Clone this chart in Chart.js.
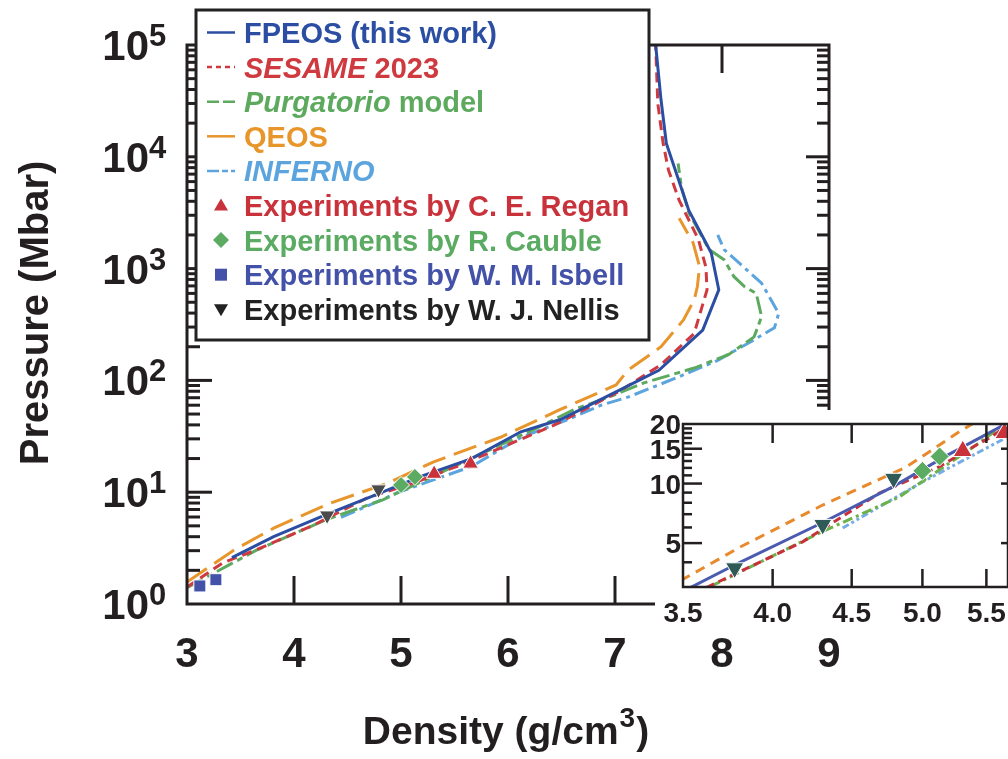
<!DOCTYPE html>
<html><head><meta charset="utf-8">
<script src="https://cdn.jsdelivr.net/npm/chart.js@4/dist/chart.umd.min.js"></script>
<style>
html,body{margin:0;padding:0;background:#fff;overflow:hidden;width:1008px;height:759px;}
#wrap{position:relative;width:1008px;height:759px;overflow:hidden;}
#main{position:absolute;left:0;top:0;}
#inset{position:absolute;left:600px;top:380px;}
</style></head><body>
<div id="wrap"><canvas id="main" width="1008" height="759"></canvas><canvas id="inset" width="420" height="270"></canvas></div>
<script>
// ---------------- data (density g/cm3, pressure Mbar) ----------------
const fpeosRho = [3.42, 3.81, 4.30, 4.78, 5.18, 5.66, 6.12, 6.49, 7.00, 7.41, 7.82, 7.97, 7.90, 7.69, 7.48, 7.43, 7.38];
const fpeosP   = [2.6, 4.0, 6.3, 9.6, 13.8, 20, 34.7, 44.7, 78, 123, 282, 646, 1380, 3311, 13183, 32359, 100000];

const sesameRho = [3.0, 3.34, 3.63, 4.18, 4.69, 5.12, 5.43, 5.54, 6.43, 6.65, 7.05, 7.43, 7.74, 7.86, 7.85, 7.78, 7.60, 7.50, 7.45, 7.40, 7.38];
const sesameP   = [1.42, 2.35, 3.0, 5.06, 8.95, 12.1, 15.8, 17.2, 39.8, 51, 81, 138, 263, 646, 1023, 1820, 4074, 7586, 13183, 30000, 100000];

const purgRho = [3.0, 3.64, 4.29, 4.83, 5.38, 5.62, 6.28, 6.62, 6.96, 7.27, 7.74, 8.06, 8.30, 8.37, 8.32, 8.21, 8.11, 8.02, 7.88, 7.69, 7.62, 7.59];
const purgP   = [1.40, 3.0, 5.63, 8.55, 15.1, 19.3, 38, 55, 72, 95, 129, 170, 245, 372, 600, 692, 851, 1200, 1480, 3162, 5370, 8700];

const qeosRho = [3.0, 3.43, 3.81, 4.31, 4.88, 5.30, 5.93, 6.49, 7.01, 7.12, 7.43, 7.64, 7.74, 7.77, 7.79, 7.73, 7.60];
const qeosP   = [1.57, 3.0, 4.77, 7.79, 12.1, 18.6, 31, 55, 91, 123, 200, 347, 525, 692, 1047, 1700, 2818];

const infernoRho = [4.44, 4.99, 5.66, 6.12, 6.56, 6.87, 7.12, 7.59, 7.96, 8.24, 8.49, 8.53, 8.37, 8.02, 7.96];
const infernoP   = [5.96, 10.1, 17, 30.9, 44.7, 60, 70.8, 107, 151, 214, 295, 398, 741, 1479, 2000];

const reganRho = [5.31, 5.65];        const reganP = [14.6, 18.0];
const caubleRho = [5.00, 5.13];       const caubleP = [11.6, 13.7];
const isbellRho = [3.12, 3.27];       const isbellP = [1.45, 1.65];
const nellisMainRho = [4.31, 4.79];   const nellisMainP = [6.2, 10.6];
const nellisInsetRho = [3.78, 4.31, 4.79]; const nellisInsetP = [3.74, 6.2, 10.6];

// tick labels
const xTicks = [3, 4, 5, 6, 7, 8, 9];
const yTickExps = [0, 1, 2, 3, 4, 5];
const insetXTicks = [3.5, 4.0, 4.5, 5.0, 5.5];
const insetXLabels = ['3.5', '4.0', '4.5', '5.0', '5.5'];
const insetYTicks = [5, 10, 15, 20];
const insetYLabels = ['5', '10', '15', '20'];

// ---------------- styling ----------------
const FONT = '"Liberation Sans", Arial, Helvetica, sans-serif';
const INK = '#231f20';
const C = {fpeos:'#2b4ea3', sesame:'#cf3a40', purg:'#5daa5f', qeos:'#e8962c', inferno:'#5ca4dd',
           regan:'#c9323b', cauble:'#5bab63', isbell:'#4352a8', nellis:'#4b4b4b'};
const CI = {fpeos:'#4a5bb0', sesame:'#c8313a', purg:'#6cb24a', qeos:'#e8892b', inferno:'#74ace6',
           regan:'#c9323b', cauble:'#5bab63', nellis:'#2f5a58'};

function pts(xs, ys){ return xs.map((x, i) => ({x: x, y: ys[i]})); }
function lineDs(label, xs, ys, color, dash, order){
  return {label, data: pts(xs, ys), showLine: true, borderColor: color, backgroundColor: color,
          borderWidth: 3, borderDash: dash, pointRadius: 0, tension: 0, order: order};
}
function markDs(label, xs, ys, color, style, r, rot){
  return {label, data: pts(xs, ys), showLine: false, pointStyle: style, pointRadius: r,
          pointRotation: rot || 0, pointBackgroundColor: color, pointBorderColor: '#ffffff',
          pointBorderWidth: 1, order: 0, clip: 20};
}
function seg(ctx, x1, y1, x2, y2){ ctx.beginPath(); ctx.moveTo(x1, y1); ctx.lineTo(x2, y2); ctx.stroke(); }

// ---------------- legend ----------------
const legendRows = [
  {kind:'line', color:C.fpeos, dash:[], parts:[['FPEOS (this work)', false]]},
  {kind:'line', color:C.sesame, dash:[5,4], parts:[['SESAME', true], [' 2023', false]]},
  {kind:'line', color:C.purg, dash:[12,4], parts:[['Purgatorio', true], [' model', false]]},
  {kind:'line', color:C.qeos, dash:[], parts:[['QEOS', false]]},
  {kind:'line', color:C.inferno, dash:[12,3,6,3], parts:[['INFERNO', true]]},
  {kind:'tri', color:C.regan, parts:[['Experiments by C. E. Regan', false]]},
  {kind:'dia', color:C.cauble, parts:[['Experiments by R. Cauble', false]]},
  {kind:'sq', color:C.isbell, parts:[['Experiments by W. M. Isbell', false]]},
  {kind:'tridown', color:'#222222', textColor:'#222222', parts:[['Experiments by W. J. Nellis', false]]}
];

const mainDecor = {
  id: 'mainDecor',
  beforeDraw(chart){
    const ctx = chart.ctx; ctx.save(); ctx.fillStyle = '#fff'; ctx.fillRect(0, 0, chart.width, chart.height); ctx.restore();
  },
  afterDatasetsDraw(chart){
    const ctx = chart.ctx, a = chart.chartArea, xs = chart.scales.x, ys = chart.scales.y;
    ctx.save();
    ctx.strokeStyle = INK; ctx.lineWidth = 3; ctx.lineCap = 'butt';
    ctx.strokeRect(a.left, a.top, a.right - a.left, a.bottom - a.top);
    // x ticks (inward, bottom and top)
    xTicks.forEach(v => {
      const px = xs.getPixelForValue(v);
      if (v === xTicks[0] || v === xTicks[xTicks.length - 1]) return;
      seg(ctx, px, a.bottom, px, a.bottom - 28);
      seg(ctx, px, a.top, px, a.top + 28);
    });
    // y ticks log
    for (let d = 0; d < 5; d++){
      for (let m = 1; m <= 9; m++){
        const v = m * Math.pow(10, d);
        const py = ys.getPixelForValue(v);
        const major = (m === 1);
        if (d === 0 && m === 1) continue;
        seg(ctx, a.left, py, a.left + (major ? 25 : 13), py);
        seg(ctx, a.right, py, a.right - (major ? 23 : 12), py);
      }
    }
    // tick labels
    ctx.fillStyle = INK;
    ctx.textBaseline = 'alphabetic';
    ctx.font = 'bold 42px ' + FONT; ctx.textAlign = 'center';
    xTicks.forEach(v => { ctx.fillText(String(v), xs.getPixelForValue(v), 667); });
    yTickExps.forEach(e => {
      const py = ys.getPixelForValue(Math.pow(10, e));
      ctx.font = 'bold 42px ' + FONT; ctx.textAlign = 'right';
      ctx.fillText('10', 149, py + 15);
      ctx.font = 'bold 31px ' + FONT; ctx.textAlign = 'left';
      ctx.fillText(String(e), 149, py + 1);
    });
    // axis titles
    ctx.save();
    ctx.translate(48, 313); ctx.rotate(-Math.PI / 2);
    ctx.font = 'bold 40px ' + FONT; ctx.textAlign = 'center';
    ctx.fillText('Pressure (Mbar)', 0, 0);
    ctx.restore();
    ctx.font = 'bold 39px ' + FONT; ctx.textAlign = 'left';
    const t1 = 'Density (g/cm', t3 = ')';
    const w1 = ctx.measureText(t1).width, w3 = ctx.measureText(t3).width;
    ctx.font = 'bold 28px ' + FONT; const w2 = ctx.measureText('3').width;
    let x0 = 505 - (w1 + w2 + w3) / 2;
    ctx.font = 'bold 39px ' + FONT; ctx.fillText(t1, x0, 744);
    ctx.font = 'bold 28px ' + FONT; ctx.fillText('3', x0 + w1 + 1, 727);
    ctx.font = 'bold 39px ' + FONT; ctx.fillText(t3, x0 + w1 + w2 + 2, 744);

    // legend
    ctx.fillStyle = '#fff'; ctx.fillRect(196, 10, 453, 330);
    ctx.strokeStyle = '#222'; ctx.lineWidth = 3; ctx.strokeRect(196, 10, 453, 330);
    legendRows.forEach((r, k) => {
      const cy = 32.5 + k * 34.6;
      ctx.save();
      if (r.kind === 'line'){
        ctx.strokeStyle = r.color; ctx.lineWidth = 2.5; ctx.setLineDash(r.dash);
        seg(ctx, 207, cy, 235, cy);
      } else {
        ctx.fillStyle = r.color; ctx.beginPath();
        const cx = 221;
        if (r.kind === 'tri'){ ctx.moveTo(cx, cy - 7); ctx.lineTo(cx + 7, cy + 5); ctx.lineTo(cx - 7, cy + 5); }
        else if (r.kind === 'tridown'){ ctx.moveTo(cx - 7, cy - 5); ctx.lineTo(cx + 7, cy - 5); ctx.lineTo(cx, cy + 7); }
        else if (r.kind === 'dia'){ ctx.moveTo(cx, cy - 8); ctx.lineTo(cx + 8, cy); ctx.lineTo(cx, cy + 8); ctx.lineTo(cx - 8, cy); }
        else { ctx.rect(cx - 6, cy - 6, 12, 12); }
        ctx.closePath(); ctx.fill();
      }
      ctx.restore();
      let tx = 244;
      ctx.fillStyle = r.textColor || r.color; ctx.textAlign = 'left';
      r.parts.forEach(p => {
        ctx.font = (p[1] ? 'italic ' : '') + 'bold 29px ' + FONT;
        ctx.fillText(p[0], tx, cy + 10.5);
        tx += ctx.measureText(p[0]).width;
      });
    });
    ctx.restore();
  }
};

new Chart(document.getElementById('main'), {
  type: 'scatter',
  data: {datasets: [
    markDs('Experiments by C. E. Regan', reganRho, reganP, C.regan, 'triangle', 9),
    markDs('Experiments by R. Cauble', caubleRho, caubleP, C.cauble, 'rectRot', 8.5),
    markDs('Experiments by W. M. Isbell', isbellRho, isbellP, C.isbell, 'rect', 8.5),
    markDs('Experiments by W. J. Nellis', nellisMainRho, nellisMainP, C.nellis, 'triangle', 9, 180),
    lineDs('FPEOS (this work)', fpeosRho, fpeosP, C.fpeos, [], 1),
    lineDs('SESAME 2023', sesameRho, sesameP, C.sesame, [10, 6], 2),
    lineDs('Purgatorio model', purgRho, purgP, C.purg, [18, 5, 6, 5], 3),
    lineDs('QEOS', qeosRho, qeosP, C.qeos, [24, 9], 4),
    lineDs('INFERNO', infernoRho, infernoP, C.inferno, [15, 5, 4, 5], 5)
  ]},
  options: {
    responsive: false, animation: false, devicePixelRatio: 1, events: [],
    layout: {padding: {left: 187, top: 45, right: 179, bottom: 155}},
    plugins: {legend: {display: false}, tooltip: {enabled: false}},
    scales: {
      x: {type: 'linear', min: 3, max: 9, display: false},
      y: {type: 'logarithmic', min: 1, max: 100000, display: false}
    }
  },
  plugins: [mainDecor]
});

// ---------------- inset ----------------
const OX = 600, OY = 380;
const insetDecor = {
  id: 'insetDecor',
  beforeDraw(chart){
    const ctx = chart.ctx; ctx.save(); ctx.fillStyle = '#fff';
    ctx.fillRect(640 - OX, 410 - OY, chart.width, 590 - 410);
    ctx.fillRect(655 - OX, 589 - OY, chart.width, 628 - 589);
    ctx.restore();
  },
  afterDatasetsDraw(chart){
    const ctx = chart.ctx, a = chart.chartArea, xs = chart.scales.x, ys = chart.scales.y;
    ctx.save();
    ctx.strokeStyle = INK; ctx.lineWidth = 2.5;
    ctx.strokeRect(a.left, a.top, a.right - a.left, a.bottom - a.top);
    insetXTicks.forEach((v, i) => {
      if (i === 0) return;
      const px = xs.getPixelForValue(v);
      seg(ctx, px, a.bottom, px, a.bottom - 18);
      seg(ctx, px, a.top, px, a.top + 19);
    });
    for (let v = 4; v <= 19; v++){
      const py = ys.getPixelForValue(v);
      const major = (v % 5 === 0);
      seg(ctx, a.left, py, a.left + (major ? 19 : 9), py);
      if (major) seg(ctx, a.right, py, a.right - 7, py);
    }
    ctx.fillStyle = INK; ctx.font = 'bold 28px ' + FONT;
    ctx.textAlign = 'center'; ctx.textBaseline = 'alphabetic';
    insetXTicks.forEach((v, i) => ctx.fillText(insetXLabels[i], xs.getPixelForValue(v), 622 - OY));
    ctx.textAlign = 'right';
    insetYTicks.forEach((v, i) => ctx.fillText(insetYLabels[i], a.left - 2, ys.getPixelForValue(v) + 10));
    ctx.restore();
  }
};

new Chart(document.getElementById('inset'), {
  type: 'scatter',
  data: {datasets: [
    markDs('Experiments by C. E. Regan', reganRho, reganP, CI.regan, 'triangle', 11),
    markDs('Experiments by R. Cauble', caubleRho, caubleP, CI.cauble, 'rectRot', 9.5),
    markDs('Experiments by W. J. Nellis', nellisInsetRho, nellisInsetP, CI.nellis, 'triangle', 10.5, 180),
    lineDs('FPEOS (this work)', fpeosRho, fpeosP, CI.fpeos, [], 1),
    lineDs('SESAME 2023', sesameRho, sesameP, CI.sesame, [8, 5], 2),
    lineDs('Purgatorio model', purgRho, purgP, CI.purg, [10, 4, 3, 4], 3),
    lineDs('QEOS', qeosRho, qeosP, CI.qeos, [10, 7], 4),
    lineDs('INFERNO', infernoRho, infernoP, CI.inferno, [7, 3, 3, 3, 3, 3], 5)
  ]},
  options: {
    responsive: false, animation: false, devicePixelRatio: 1, events: [],
    layout: {padding: {left: 83, top: 44, right: 11, bottom: 63}},
    plugins: {legend: {display: false}, tooltip: {enabled: false}},
    scales: {
      x: {type: 'logarithmic', min: 3.5, max: 5.68, display: false},
      y: {type: 'logarithmic', min: 3, max: 20, display: false}
    }
  },
  plugins: [insetDecor]
});
</script>
</body></html>
